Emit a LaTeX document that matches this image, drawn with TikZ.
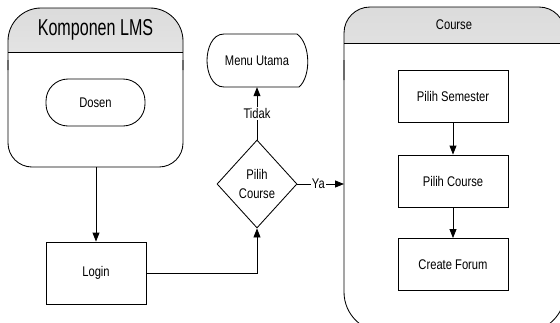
\documentclass[tikz,border=0pt]{standalone}
\usepackage{fontspec}
\setmainfont{Liberation Sans}[FakeStretch=0.8]
\newfontfamily\lanefont{Liberation Sans}[FakeStretch=0.7]
\usetikzlibrary{arrows.meta,shapes.geometric}

\begin{document}
\begin{tikzpicture}[x=1pt,y=-1pt,
  every node/.style={font=\fontsize{14}{19}\selectfont, align=center},
  line/.style={draw=black, line width=0.85pt},
  flow/.style={line, -{Triangle[length=9pt,width=7pt]}},
  procbox/.style={line, inner sep=0pt, minimum width=100pt, minimum height=62pt},
  coursebox/.style={line, inner sep=0pt, minimum width=110pt, minimum height=52pt},
  actor/.style={line, rounded corners=22pt, inner sep=0pt, minimum width=99pt, minimum height=47pt},
  decision/.style={line, diamond, inner sep=0pt, minimum width=80pt, minimum height=88pt},
  lbl/.style={fill=white, inner sep=1pt},
  headfill/.style={top color=gray!28, bottom color=gray!6},
]
\useasboundingbox (0,0) rectangle (560,322);
\clip (0,0) rectangle (560,322);

% ---- lane: Komponen LMS ----
\begin{scope}
  \clip (0,0) rectangle (200,52);
  \shade[headfill, rounded corners=33pt] (8,8) rectangle (183,160);
\end{scope}
\draw[line, rounded corners=33pt] (8,70) -- (8,8) -- (183,8) -- (183,70);
\draw[line, rounded corners=24pt] (8,60) -- (8,167) -- (183,167) -- (183,60);
\draw[line] (8,52) -- (183,52);
\node[font=\lanefont\fontsize{23}{26}\selectfont] (lmstitle) at (95.5,30) {Komponen LMS};
\coordinate (lmsbottom) at (96,167);

% ---- lane: Course ----
\begin{scope}
  \clip (330,0) rectangle (560,43);
  \shade[headfill, rounded corners=26pt] (344,7) rectangle (565,200);
\end{scope}
\draw[line, rounded corners=26pt] (344,80) -- (344,7) -- (565,7) -- (565,80);
\draw[line, rounded corners=40pt] (344,60) -- (344,332) -- (565,332) -- (565,60);
\draw[line] (344,43) -- (565,43);
\node (coursetitle) at (454,25) {Course};
\coordinate (courseleft) at (344,184);

% ---- nodes ----
\node[actor] (dosen) at (95.5,102.5) {Dosen};
\node[procbox] (login) at (96,273) {Login};
\node[decision] (pilih) at (257,184) {Pilih\\Course};

\node[minimum width=100pt, minimum height=53pt, inner sep=0pt] (menu) at (257,60.5) {Menu Utama};
\draw[line] (224,34) -- (297,34)
  .. controls (311,44) and (311,77) .. (299,87)
  -- (224,87)
  .. controls (212,87) and (207,72) .. (207,60.5)
  .. controls (207,49) and (212,34) .. (224,34) -- cycle;

\node[coursebox] (sem) at (453,96) {Pilih Semester};
\node[coursebox] (pc) at (453,181) {Pilih Course};
\node[coursebox] (forum) at (453,264.5) {Create Forum};

% ---- connectors ----
\draw[flow] (lmsbottom) -- (login.north);
\draw[flow] (login.east) -| (pilih.south);
\draw[flow] (pilih.north) -- node[lbl] {Tidak} (menu.south);
\draw[flow] (pilih.east) -- node[lbl, pos=0.45] {Ya} (courseleft);
\draw[flow] (sem.south) -- (pc.north);
\draw[flow] (pc.south) -- (forum.north);
\end{tikzpicture}
\end{document}
